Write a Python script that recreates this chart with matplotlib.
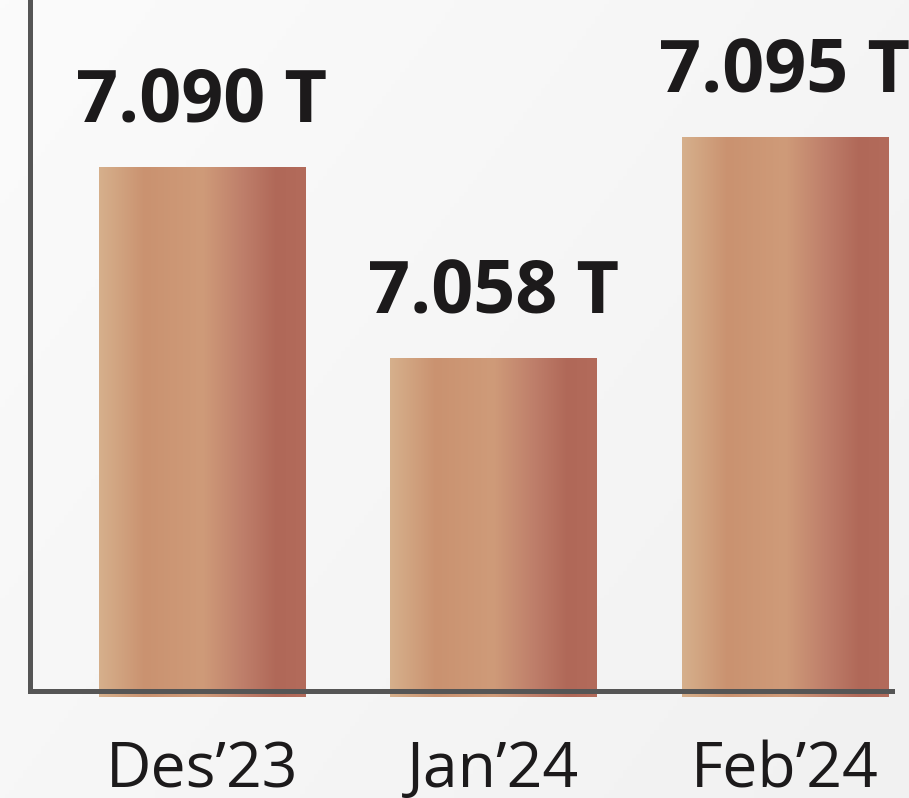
import matplotlib.pyplot as plt
import numpy as np
from matplotlib.colors import LinearSegmentedColormap

months = ["Des\u201923", "Jan\u201924", "Feb\u201924"]
values = [7.090, 7.058, 7.095]
labels = ["7.090 T", "7.058 T", "7.095 T"]

plt.rcParams['font.family'] = ['Open Sans', 'DejaVu Sans']

bar_cmap = LinearSegmentedColormap.from_list("bar", [
    (0.00, (214/255, 176/255, 140/255)),
    (0.22, (202/255, 146/255, 112/255)),
    (0.50, (207/255, 155/255, 121/255)),
    (0.70, (190/255, 126/255, 106/255)),
    (0.86, (176/255, 104/255, 88/255)),
    (1.00, (179/255, 107/255, 91/255)),
])
bg_cmap = LinearSegmentedColormap.from_list("bg", ["#fbfbfb", "#f1f1f1"])

fig = plt.figure(figsize=(9.09, 7.98), dpi=100)

# background
bg = fig.add_axes([0, 0, 1, 1], zorder=-10)
yy, xx = np.mgrid[0:1:200j, 0:1:200j]
bg.imshow(0.6 * xx + 0.4 * yy, cmap=bg_cmap, aspect='auto', extent=[0, 1, 0, 1])
bg.axis('off')

ax = fig.add_axes([0.03355, 0.13346, 0.9477, 0.8665])
ax.patch.set_alpha(0)
x = np.arange(len(months))
ymin, ymax = 7.00226, 7.1181
bars = ax.bar(x, np.array(values) - 7.0013, bottom=7.0013, width=0.7067,
              alpha=0, clip_on=False)

grad = np.linspace(0, 1, 256).reshape(1, -1)
for b, lab in zip(bars, labels):
    x0, y0 = b.get_x(), b.get_y()
    w, h = b.get_width(), b.get_height()
    ax.imshow(grad, cmap=bar_cmap, aspect='auto', extent=[x0, x0 + w, y0, y0 + h],
              zorder=1, clip_on=False)
    ax.annotate(lab, (x0 + w / 2, y0 + h), xytext=(0, 32.4), textcoords='offset points',
                ha='center', va='baseline', fontsize=53, fontweight='bold',
                color='#1c1a1b', annotation_clip=False)

ax.set_xlim(-0.5883, 2.367)
ax.set_ylim(ymin, ymax)
ax.set_xticks(x)
ax.set_xticklabels(months, fontsize=45, color='#1c1a1b')
for t in ax.get_xticklabels():
    t.set_va('baseline')
ax.tick_params(axis='x', length=0, pad=68.8)
ax.set_yticks([])
for s in ['top', 'right']:
    ax.spines[s].set_visible(False)
for s in ['left', 'bottom']:
    ax.spines[s].set_color('#555555')
    ax.spines[s].set_linewidth(3.6)
    ax.spines[s].set_zorder(3)

fig.savefig("out.png", dpi=100)
